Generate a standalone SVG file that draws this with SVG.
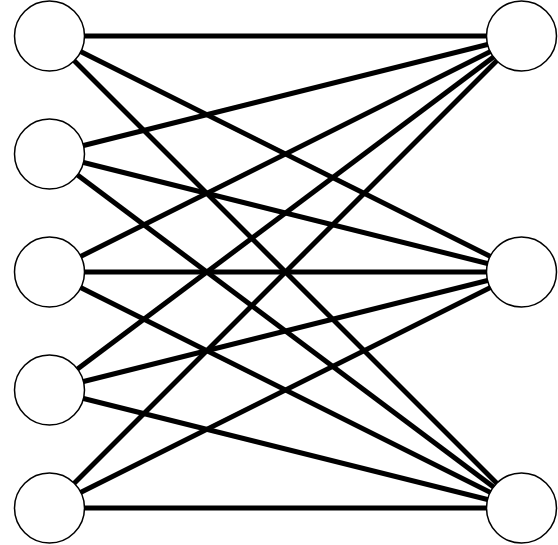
<svg xmlns="http://www.w3.org/2000/svg" width="558" height="545" viewBox="0 0 558 545">
<style>
.e{stroke:#000;stroke-width:5;fill:none}
.n{fill:#fff;stroke:#000;stroke-width:1.5}
</style>
<rect width="558" height="545" fill="#fff"/>
<g id="connectors">
<line class="e" x1="49.5" y1="36" x2="521.5" y2="36"/>
<line class="e" x1="49.5" y1="36" x2="521.5" y2="272"/>
<line class="e" x1="49.5" y1="36" x2="521.5" y2="508"/>
<line class="e" x1="49.5" y1="154" x2="521.5" y2="36"/>
<line class="e" x1="49.5" y1="154" x2="521.5" y2="272"/>
<line class="e" x1="49.5" y1="154" x2="521.5" y2="508"/>
<line class="e" x1="49.5" y1="272" x2="521.5" y2="36"/>
<line class="e" x1="49.5" y1="272" x2="521.5" y2="272"/>
<line class="e" x1="49.5" y1="272" x2="521.5" y2="508"/>
<line class="e" x1="49.5" y1="390" x2="521.5" y2="36"/>
<line class="e" x1="49.5" y1="390" x2="521.5" y2="272"/>
<line class="e" x1="49.5" y1="390" x2="521.5" y2="508"/>
<line class="e" x1="49.5" y1="508" x2="521.5" y2="36"/>
<line class="e" x1="49.5" y1="508" x2="521.5" y2="272"/>
<line class="e" x1="49.5" y1="508" x2="521.5" y2="508"/>
</g>
<g id="L1"><circle class="n" cx="49.5" cy="36" r="35"/></g>
<g id="L2"><circle class="n" cx="49.5" cy="154" r="35"/></g>
<g id="L3"><circle class="n" cx="49.5" cy="272" r="35"/></g>
<g id="L4"><circle class="n" cx="49.5" cy="390" r="35"/></g>
<g id="L5"><circle class="n" cx="49.5" cy="508" r="35"/></g>
<g id="R1"><circle class="n" cx="521.5" cy="36" r="35"/></g>
<g id="R2"><circle class="n" cx="521.5" cy="272" r="35"/></g>
<g id="R3"><circle class="n" cx="521.5" cy="508" r="35"/></g>
</svg>
